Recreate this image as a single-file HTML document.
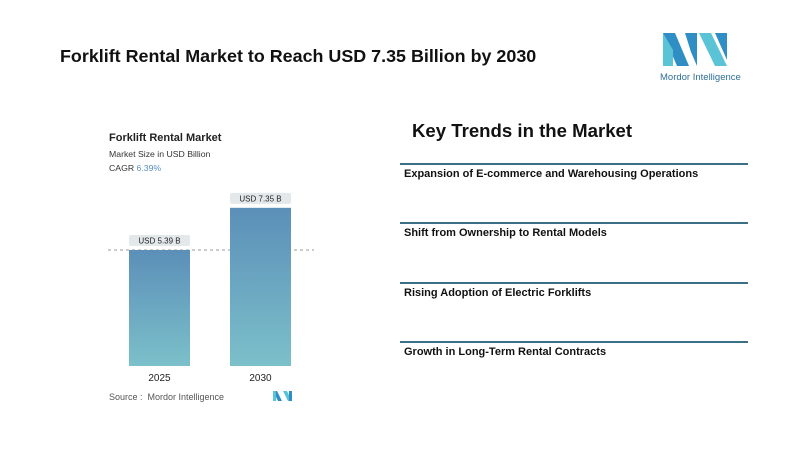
<!DOCTYPE html>
<html><head><meta charset="utf-8"><style>
body{margin:0;width:800px;height:452px;background:#fff;font-family:"Liberation Sans",sans-serif;position:relative;overflow:hidden}
.abs{position:absolute}
.title{left:60px;top:46px;font-size:17.9px;font-weight:bold;color:#111}
.kt{left:412px;top:120px;font-size:18.6px;font-weight:bold;color:#111}
.line{left:400px;width:348px;height:1.5px;background:#3b6f86}
.item{left:404px;font-size:11px;font-weight:bold;color:#111}
</style></head><body>
<div class="abs title">Forklift Rental Market to Reach USD 7.35 Billion by 2030</div>
<svg class="abs" style="left:655px;top:30px" width="90" height="55">
<polygon points="8,3 20,3 34,36 22,36" fill="#2f8fc4"/><polygon points="8,3 8,36 18,36 18,20" fill="#5bc3d6"/>
<polygon points="30,3 42,3 42,36 36,22" fill="#2f8fc4"/><polygon points="44,3 56,3 72,36 60,36" fill="#5bc3d6"/><polygon points="60,3 72,3 72,30" fill="#2f8fc4"/>
<text x="5" y="50" font-size="9.5" fill="#2f6f9a" font-family="Liberation Sans">Mordor Intelligence</text></svg>
<div class="abs" style="left:109px;top:132px;font-size:11px;font-weight:bold;color:#222">Forklift Rental Market</div>
<div class="abs" style="left:109px;top:149px;font-size:8.7px;color:#333">Market Size in USD Billion</div>
<div class="abs" style="left:109px;top:163px;font-size:8.7px;color:#333">CAGR <span style="color:#5b8fc4">6.39%</span></div>
<svg id="chart" class="abs" style="left:0;top:0" width="400" height="452">
<defs><linearGradient id="g" x1="0" y1="0" x2="0" y2="1"><stop offset="0" stop-color="#5b8fb8"/><stop offset="1" stop-color="#7cc0ca"/></linearGradient></defs>
</svg>
<div class="abs" style="left:109px;top:392px;font-size:9px;color:#555">Source :&nbsp; Mordor Intelligence</div>
<svg class="abs" style="left:273px;top:391px" width="20" height="10"><polygon points="0,0 4,0 9,10 5,10" fill="#2f8fc4"/><polygon points="10,0 14,0 19,10 15,10" fill="#5bc3d6"/><rect x="0" y="0" width="3" height="10" fill="#5bc3d6"/><rect x="16" y="0" width="3" height="10" fill="#2f8fc4"/></svg>
<div class="abs kt">Key Trends in the Market</div>
<div class="abs line" style="top:163px"></div>
<div class="abs item" style="top:168px">Expansion of E-commerce and Warehousing Operations</div>
<div class="abs line" style="top:222px"></div>
<div class="abs item" style="top:227px">Shift from Ownership to Rental Models</div>
<div class="abs line" style="top:282px"></div>
<div class="abs item" style="top:287px">Rising Adoption of Electric Forklifts</div>
<div class="abs line" style="top:341px"></div>
<div class="abs item" style="top:346px">Growth in Long-Term Rental Contracts</div>
<script>
const categories=["2025","2030"];
const values=[5.39,7.35];
const valueLabels=["USD 5.39 B","USD 7.35 B"];
const svg=document.getElementById('chart');const NS="http://www.w3.org/2000/svg";
const base=366,scale=116/5.39;
const y=v=>base-v*scale;
const xs=i=>129+i*101;
const bw=61;
function mk(t,a){const e=document.createElementNS(NS,t);for(const k in a)e.setAttribute(k,a[k]);svg.appendChild(e);return e;}
const dl=mk('line',{x1:108,x2:314,y1:y(values[0]),y2:y(values[0]),stroke:'#999','stroke-dasharray':'3,3','stroke-width':1});


categories.forEach((c,i)=>{
const r=mk('rect',{x:xs(i),y:y(values[i]),width:bw,height:base-y(values[i]),fill:'url(#g)'});


const lb=mk('rect',{x:xs(i),y:y(values[i])-15,width:bw,height:11,rx:2,fill:'#e3e8ea'});


const t=mk('text',{x:xs(i)+bw/2,y:y(values[i])-6.5,'font-size':8,'text-anchor':'middle',fill:'#222','font-family':'Liberation Sans'});
t.textContent=valueLabels[i];


const xl=mk('text',{x:xs(i)+bw/2,y:381,'font-size':10,'text-anchor':'middle',fill:'#222','font-family':'Liberation Sans'});
xl.textContent=c;


});
</script>
</body></html>
